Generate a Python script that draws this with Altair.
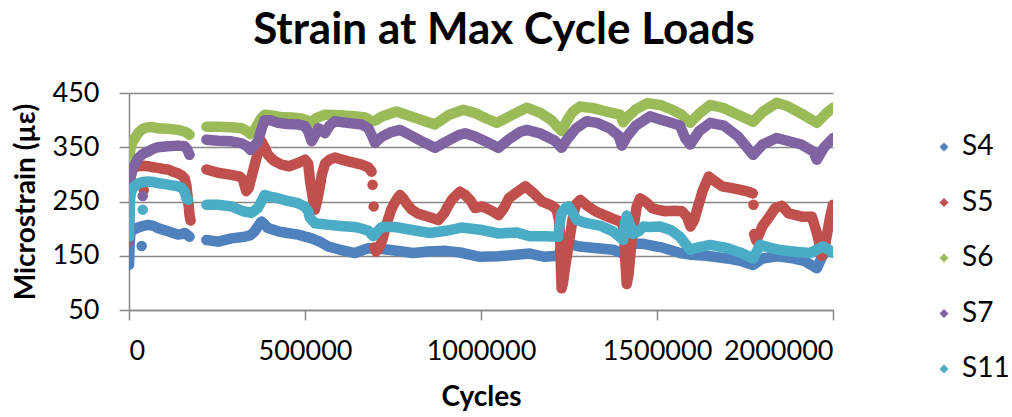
import altair as alt
import pandas as pd

SERIES = ["S4", "S5", "S6", "S7", "S11"]
COLORS = ["#4F81BD", "#C0504D", "#9BBB59", "#8064A2", "#4BACC6"]

X_TICKS = [0, 500000, 1000000, 1500000, 2000000]
Y_TICKS = [50, 150, 250, 350, 450]

# Each series is a list of runs; a run is a list of (thousand cycles, microstrain).
# Runs are broken where the logger has no readings; single-point runs are strays.
S4_RUNS = [
    [(0, 133), (0.5, 143), (1, 153), (1.5, 163), (2, 172), (3, 182), (4, 190), (6, 196),
     (10, 199), (16, 199), (26, 202), (40, 205), (55, 207), (70, 205), (82, 201), (96, 198),
     (111, 195), (125, 192), (139, 189), (150, 190), (158, 192), (165, 189), (172, 185)],
    [(36, 168)],
    [(220, 179), (253, 176), (291, 182), (329, 185), (345, 188), (357, 195), (366, 204),
     (376, 213), (385, 208), (395, 201), (423, 195), (450, 192), (480, 189), (519, 182),
     (545, 175), (566, 167), (600, 161), (642, 155), (680, 164), (713, 163), (750, 160),
     (807, 155), (850, 158), (900, 159), (940, 156), (997, 148), (1050, 149), (1100, 152),
     (1139, 154), (1180, 148), (1219, 150), (1228, 165), (1239, 177), (1260, 170),
     (1281, 167), (1330, 164), (1375, 161), (1400, 155), (1409, 150), (1420, 165),
     (1435, 172), (1461, 172), (1490, 168), (1509, 166), (1540, 160), (1565, 155),
     (1594, 152), (1640, 150), (1700, 145), (1740, 140), (1773, 133), (1800, 145),
     (1840, 149), (1880, 146), (1920, 140), (1954, 127), (1970, 150), (1985, 160),
     (2000, 158)],
]

S5_RUNS = [
    [(0, 205), (0.5, 225), (1, 245), (1.5, 262), (2, 275), (3, 288), (5, 298), (8, 305),
     (12, 310), (20, 314), (26, 315), (40, 316), (54, 315), (68, 313), (82, 312), (96, 310),
     (111, 309), (125, 305), (139, 302), (150, 298), (158, 293), (163, 280), (166, 262),
     (169, 245), (172, 225), (175, 215)],
    [(42, 271)],
    [(220, 309), (253, 303), (291, 299), (315, 296), (324, 290), (333, 269), (340, 275),
     (350, 300), (360, 325), (368, 345), (376, 361), (385, 350), (395, 336), (410, 326),
     (433, 318), (455, 315), (480, 321), (500, 327), (509, 320), (514, 290), (520, 265),
     (528, 235), (534, 250), (540, 270), (548, 300), (557, 320), (570, 327), (585, 331),
     (600, 328), (623, 324), (661, 318), (680, 313), (689, 305)],
    [(692, 281)],
    [(695, 241)],
    [(697, 165), (702, 158), (708, 162), (714, 170), (720, 180), (728, 200), (737, 219),
     (745, 235), (755, 248), (765, 258), (770, 262), (780, 255), (790, 245), (803, 235),
     (820, 228), (850, 222), (879, 216), (895, 228), (905, 240), (917, 253), (930, 262),
     (940, 268), (955, 262), (970, 252), (983, 238), (1003, 241), (1030, 233), (1050, 225),
     (1065, 238), (1079, 256), (1100, 266), (1126, 278), (1150, 265), (1173, 250),
     (1200, 243), (1215, 235), (1222, 215), (1225, 180), (1227, 130), (1229, 90),
     (1233, 100), (1238, 125), (1244, 150), (1250, 175), (1256, 200), (1262, 225),
     (1270, 245), (1282, 253), (1300, 243), (1325, 232), (1350, 225), (1372, 219),
     (1396, 213), (1404, 205), (1408, 170), (1411, 130), (1414, 98), (1419, 115),
     (1424, 150), (1428, 178), (1434, 205), (1442, 240), (1452, 256), (1470, 248),
     (1486, 238), (1500, 235), (1524, 232), (1550, 233), (1571, 232), (1585, 222),
     (1595, 204), (1605, 215), (1618, 244), (1630, 270), (1647, 296), (1665, 287),
     (1685, 278), (1710, 275), (1741, 271), (1760, 268), (1772, 265)],
    [(1774, 244)],
    [(1776, 190), (1782, 178), (1790, 190), (1800, 205), (1815, 218), (1836, 238),
     (1855, 242), (1874, 228), (1912, 222), (1940, 222), (1948, 205), (1955, 190),
     (1962, 170), (1968, 150), (1975, 160), (1983, 190), (1992, 222), (2000, 244)],
]

S6_RUNS = [
    [(0, 300), (0.5, 312), (1, 322), (1.5, 330), (2, 336), (3, 342), (5, 350), (8, 356),
     (11, 361), (18, 368), (26, 376), (33, 381), (40, 384), (54, 387), (68, 387), (82, 385),
     (111, 384), (139, 382), (158, 379), (166, 376), (172, 373)],
    [(220, 388), (253, 388), (291, 387), (320, 385), (335, 380), (345, 374), (355, 380),
     (365, 392), (375, 403), (385, 410), (400, 409), (430, 406), (460, 405), (490, 403),
     (510, 399), (519, 396), (530, 403), (557, 410), (600, 409), (640, 407), (671, 405),
     (690, 397), (705, 401), (720, 407), (760, 416), (810, 405), (869, 392), (910, 410),
     (950, 419), (983, 413), (1015, 403), (1045, 395), (1090, 410), (1130, 423),
     (1170, 413), (1200, 400), (1229, 380), (1245, 400), (1260, 415), (1281, 425),
     (1320, 422), (1360, 415), (1395, 410), (1404, 396), (1415, 405), (1440, 420),
     (1471, 431), (1509, 428), (1540, 420), (1570, 410), (1594, 395), (1620, 412),
     (1651, 428), (1690, 422), (1730, 410), (1773, 397), (1800, 415), (1840, 432),
     (1870, 426), (1910, 412), (1954, 395), (1980, 412), (2000, 423)],
]

S7_RUNS = [
    [(0, 175), (0.5, 200), (1, 225), (1.5, 250), (2, 270), (3, 285), (5, 295), (8, 305),
     (12, 313), (20, 322), (26, 330), (40, 338), (54, 342), (68, 347), (82, 350), (111, 352),
     (139, 353), (158, 352), (166, 345), (172, 336)],
    [(39, 260)],
    [(220, 364), (253, 362), (291, 361), (320, 357), (335, 352), (345, 345), (355, 352),
     (366, 360), (375, 380), (385, 400), (400, 400), (423, 395), (450, 393), (480, 392),
     (500, 389), (510, 378), (519, 361), (530, 374), (538, 385), (548, 380), (557, 376),
     (570, 390), (585, 398), (620, 395), (661, 392), (680, 385), (689, 373), (699, 358),
     (710, 365), (720, 370), (745, 378), (770, 382), (800, 372), (835, 360), (869, 349),
     (900, 360), (935, 372), (955, 376), (983, 370), (1015, 360), (1049, 349), (1080, 365),
     (1110, 378), (1130, 382), (1170, 375), (1210, 362), (1229, 349), (1245, 365),
     (1270, 385), (1300, 398), (1330, 395), (1365, 385), (1390, 372), (1400, 353),
     (1415, 370), (1440, 390), (1480, 407), (1509, 401), (1540, 395), (1565, 390),
     (1580, 367), (1594, 355), (1620, 380), (1651, 395), (1690, 390), (1730, 370),
     (1773, 336), (1800, 355), (1840, 367), (1870, 362), (1910, 355), (1944, 342),
     (1954, 327), (1975, 350), (2000, 367)],
]

S11_RUNS = [
    [(0, 185), (0.5, 200), (1, 215), (1.5, 230), (2, 242), (3, 252), (4, 260), (6, 267),
     (10, 273), (16, 278), (26, 283), (40, 286), (54, 287), (68, 286), (82, 284), (111, 281),
     (139, 278), (150, 275), (158, 268), (163, 256), (168, 253)],
    [(39, 235)],
    [(220, 244), (253, 244), (291, 241), (324, 232), (348, 229), (366, 238), (376, 250),
     (385, 262), (400, 259), (423, 256), (450, 251), (480, 247), (500, 240), (509, 232),
     (514, 220), (528, 210), (566, 207), (600, 205), (640, 203), (661, 200), (680, 196),
     (694, 186), (706, 195), (718, 203), (756, 203), (800, 198), (855, 192), (900, 196),
     (945, 202), (997, 198), (1050, 191), (1100, 193), (1139, 186), (1180, 186),
     (1219, 185), (1225, 215), (1229, 229), (1240, 238), (1248, 241), (1260, 230),
     (1272, 216), (1300, 210), (1340, 205), (1375, 195), (1404, 179), (1409, 210),
     (1414, 224), (1422, 210), (1432, 190), (1448, 195), (1461, 204), (1480, 203),
     (1509, 204), (1540, 197), (1565, 185), (1594, 161), (1620, 166), (1651, 170),
     (1700, 164), (1740, 155), (1773, 145), (1793, 170), (1820, 165), (1855, 160),
     (1900, 157), (1935, 155), (1972, 167), (1990, 160), (2000, 155)],
]

RUNS = {"S4": S4_RUNS, "S5": S5_RUNS, "S6": S6_RUNS, "S7": S7_RUNS, "S11": S11_RUNS}

rows = []
for name in SERIES:
    for run_no, run in enumerate(RUNS[name]):
        for kcycles, strain in run:
            rows.append({"series": name, "run": f"{name}-{run_no}",
                         "cycles": kcycles * 1000, "strain": strain})
df = pd.DataFrame(rows)

FONT = "Lato"
GRID = "#878787"

x_enc = alt.X(
    "cycles:Q",
    scale=alt.Scale(domain=[0, 2000000], nice=False, zero=False),
    axis=alt.Axis(values=X_TICKS, format="d", title="Cycles", grid=False,
                  labelPadding=18, titlePadding=19, tickSize=10),
)
y_enc = alt.Y(
    "strain:Q",
    scale=alt.Scale(domain=[50, 450], nice=False, zero=False),
    axis=alt.Axis(values=Y_TICKS, title="Microstrain (µε)", grid=True,
                  labelPadding=20, titlePadding=12, tickSize=10),
)
color_enc = alt.Color(
    "series:N",
    scale=alt.Scale(domain=SERIES, range=COLORS),
    legend=alt.Legend(title=None, orient="none", legendX=801, legendY=40,
                      symbolType="diamond", symbolSize=80, symbolStrokeWidth=0,
                      labelFont=FONT, labelFontSize=28, labelColor="black",
                      labelOffset=4, rowPadding=27.5, padding=0),
)

base = alt.Chart(df)
layers = []
for name in SERIES:
    part = base.transform_filter(alt.datum.series == name)
    layers.append(
        part.mark_line(strokeWidth=10.5, strokeCap="round", strokeJoin="round", clip=True)
        .encode(x=x_enc, y=y_enc, color=color_enc, detail="run:N")
    )
    layers.append(
        part.mark_point(shape="diamond", filled=True, size=100, opacity=1, clip=True)
        .encode(x=x_enc, y=y_enc, color=color_enc)
    )

chart = (
    alt.layer(*layers)
    .properties(
        width=704,
        height=217,
        autosize=alt.AutoSizeParams(type="none"),
        padding={"left": 129, "top": 93, "right": 179, "bottom": 107},
        title=alt.TitleParams("Strain at Max Cycle Loads", font=FONT, fontSize=44,
                              fontWeight="bold", color="black", anchor="middle",
                              dx=23, offset=26),
    )
    .configure_view(stroke=None)
    .configure_axis(
        labelFont=FONT, labelFontSize=27, labelColor="black",
        titleFont=FONT, titleFontSize=28, titleFontWeight="bold", titleColor="black",
        domainColor=GRID, domainWidth=1.5, tickColor=GRID, tickWidth=1.5,
        gridColor=GRID, gridWidth=1.5, gridOpacity=1,
    )
)

chart.save("out.html", embed_options={"renderer": "svg", "actions": False})
